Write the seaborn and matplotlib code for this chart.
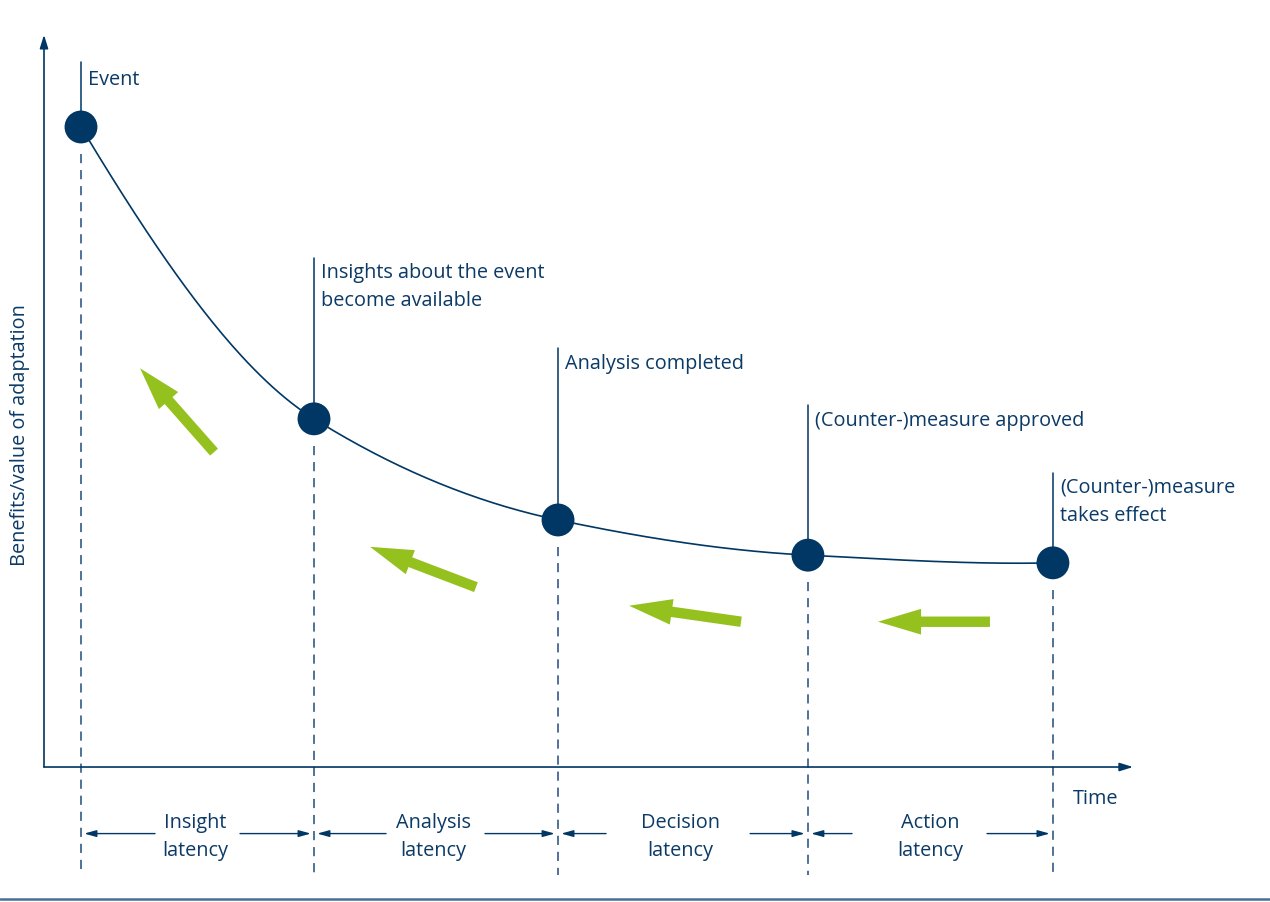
import numpy as np
import pandas as pd
import matplotlib
matplotlib.use("Agg")
import matplotlib.pyplot as plt
import seaborn as sns

# ---------------- data ----------------
milestones = ["Event", "Insights about the event\nbecome available", "Analysis completed",
              "(Counter-)measure approved", "(Counter-)measure\ntakes effect"]
time_pos = [0.0, 0.951, 1.947, 2.967, 3.967]
benefit = [100.0, 54.4, 38.6, 33.1, 31.9]
label_level = [107.4, 75.0, 63.0, 54.1, 41.4]
stem_top = [110.2, 79.5, 65.5, 56.6, 45.9]

latencies = ["Insight\nlatency", "Analysis\nlatency", "Decision\nlatency", "Action\nlatency"]
latency_center = [0.465, 1.437, 2.445, 3.465]
gap_left = [0.302, 1.245, 2.143, 3.147]
gap_right = [0.649, 1.649, 2.731, 3.698]
latency_level = -10.4

# green arrows: tail -> head
green_tail_t = [0.543, 1.612, 2.694, 3.710]
green_tail_v = [49.2, 28.1, 22.7, 22.7]
green_head_t = [0.241, 1.180, 2.237, 3.253]
green_head_v = [62.3, 34.4, 25.2, 22.7]

y_label = "Benefits/value of adaptation"
x_label = "Time"

NAVY = "#003764"
TXT = "#0b3a66"
GREEN = "#95c11f"
FS = 14.3
LS = 1.55

# ---------------- figure ----------------
sns.set_theme(style="white")
plt.rcParams["font.family"] = ["Open Sans", "DejaVu Sans"]

fig = plt.figure(figsize=(12.7, 9.02), dpi=100)
ax = fig.add_axes([0, 0, 1, 1])
ax.set_xlim(-0.3306, 4.853)
ax.set_ylim(-21.09, 119.84)
ax.axis("off")

# axes arrows
ax.annotate("", xy=(-0.151, 114.4), xytext=(-0.151, 0), annotation_clip=False,
            arrowprops=dict(arrowstyle="-|>,head_length=0.8,head_width=0.25", color=NAVY,
                            lw=1.2, shrinkA=0, shrinkB=0, mutation_scale=10))
ax.annotate("", xy=(4.294, 0), xytext=(-0.151, 0), annotation_clip=False,
            arrowprops=dict(arrowstyle="-|>,head_length=0.8,head_width=0.25", color=NAVY,
                            lw=1.2, shrinkA=0, shrinkB=0, mutation_scale=10))

# smooth curve (monotone cubic Hermite through the milestones)
def pchip(x, y, n=300):
    x = np.asarray(x, float); y = np.asarray(y, float)
    h = np.diff(x); d = np.diff(y) / h
    m = np.zeros_like(y)
    for k in range(1, len(x) - 1):
        if d[k - 1] * d[k] > 0:
            w1 = 2 * h[k] + h[k - 1]; w2 = h[k] + 2 * h[k - 1]
            m[k] = (w1 + w2) / (w1 / d[k - 1] + w2 / d[k])
    m[0] = ((2 * h[0] + h[1]) * d[0] - h[0] * d[1]) / (h[0] + h[1])
    m[-1] = ((2 * h[-1] + h[-2]) * d[-1] - h[-1] * d[-2]) / (h[-1] + h[-2])
    xs, ys = [], []
    for k in range(len(h)):
        tt = np.linspace(0, 1, n // len(h))
        h00 = 2 * tt**3 - 3 * tt**2 + 1; h10 = tt**3 - 2 * tt**2 + tt
        h01 = -2 * tt**3 + 3 * tt**2; h11 = tt**3 - tt**2
        xs.append(x[k] + tt * h[k])
        ys.append(h00 * y[k] + h10 * h[k] * m[k] + h01 * y[k + 1] + h11 * h[k] * m[k + 1])
    return np.concatenate(xs), np.concatenate(ys)

cx, cy = pchip(time_pos, benefit)
ax.plot(cx, cy, color=NAVY, lw=1.2, zorder=2)

# stems and dashed drop lines
for t, v, top in zip(time_pos, benefit, stem_top):
    ax.plot([t, t], [v, top], color=NAVY, lw=1.1, zorder=1)
    ax.plot([t, t], [v - 4.2, -16.9], color="#1d4d7a", lw=1.1, ls=(0, (6, 4.5)), zorder=1)

df = pd.DataFrame({"time": time_pos, "benefit": benefit})
sns.scatterplot(data=df, x="time", y="benefit", s=560, color=NAVY, edgecolor="none",
                zorder=3, ax=ax, legend=False)

# milestone labels
for t, lvl, lab in zip(time_pos, label_level, milestones):
    ax.text(t + 0.028, lvl, lab, color=TXT, fontsize=FS, ha="left", va="center",
            linespacing=LS)

# latency labels and arrows
for c, gl, gr, lab, t0, t1 in zip(latency_center, gap_left, gap_right, latencies,
                                   time_pos[:-1], time_pos[1:]):
    ax.text(c, latency_level - 0.5, lab, color=TXT, fontsize=FS, ha="center", va="center",
            linespacing=LS)
    for start, end in [(gl, t0 + 0.013), (gr, t1 - 0.013)]:
        ax.annotate("", xy=(end, latency_level), xytext=(start, latency_level),
                    arrowprops=dict(arrowstyle="-|>,head_length=0.9,head_width=0.25",
                                    color=NAVY, lw=1.0, shrinkA=0, shrinkB=0,
                                    mutation_scale=8))

# green arrows
for tt, tv, ht, hv in zip(green_tail_t, green_tail_v, green_head_t, green_head_v):
    ax.annotate("", xy=(ht, hv), xytext=(tt, tv),
                arrowprops=dict(arrowstyle="simple,head_length=31,head_width=18.5,tail_width=7.5",
                                color=GREEN, lw=0, shrinkA=0, shrinkB=0, mutation_scale=1))

# axis labels
ax.text(-0.249, 51.9, y_label, rotation=90, color=TXT, fontsize=FS, ha="center", va="center")
ax.text(4.143, -5.0, x_label, color=TXT, fontsize=FS, ha="center", va="center")

# bottom rule
ax.plot([-0.3306, 4.853], [-20.6, -20.6], color="#4a6f94", lw=1.8)

fig.savefig("out.png", dpi=100)
